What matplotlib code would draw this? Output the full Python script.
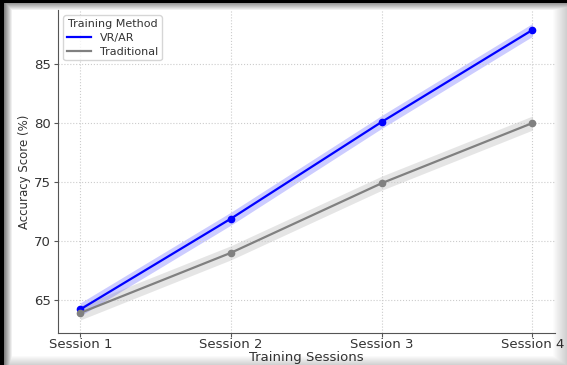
import numpy as np
import matplotlib.pyplot as plt

# accuracy per training session
sessions = ['Session 1', 'Session 2', 'Session 3', 'Session 4']
vr_ar = [64.2, 71.9, 80.1, 87.9]
traditional = [63.9, 69.0, 74.9, 80.0]
vr_ar_ci = [0.55, 0.55, 0.55, 0.55]
traditional_ci = [0.6, 0.6, 0.6, 0.6]

W, H = 567, 365
fig = plt.figure(figsize=(W / 100, H / 100), dpi=100)
ax = fig.add_axes([0.102, 0.088, 0.877, 0.885])

x = np.arange(len(sessions))

def draw(vals, ci, color, label):
    vals = np.array(vals)
    ci = np.array(ci)
    ax.fill_between(x, vals - ci, vals + ci, color=color, alpha=0.2, lw=0)
    ax.plot(x, vals, color=color, lw=1.6, label=label)
    ax.plot(x, vals, 'o', color=color, ms=4.5)

draw(vr_ar, vr_ar_ci, 'blue', 'VR/AR')
draw(traditional, traditional_ci, 'grey', 'Traditional')

ax.set_xticks(x)
ax.set_xticklabels(sessions, fontsize=9.5, color='#333333')
ax.set_yticks([65, 70, 75, 80, 85])
ax.tick_params(axis='y', labelsize=9.5, labelcolor='#333333', pad=2)
ax.tick_params(axis='x', pad=1)
ax.tick_params(length=3, color='#555555')
ax.set_xlim(-0.15, 3.15)
ax.set_ylim(62.2, 89.6)
ax.set_xlabel('Training Sessions', fontsize=9.5, color='#333333', labelpad=0)
ax.set_ylabel('Accuracy Score (%)', fontsize=8.5, color='#333333', labelpad=2)
ax.grid(True, ls=':', color='#cccccc', lw=0.8)
for s in ['top', 'right']:
    ax.spines[s].set_visible(False)
for s in ['left', 'bottom']:
    ax.spines[s].set_color('#555555')

leg = ax.legend(title='Training Method', loc='upper left', fontsize=8,
                title_fontsize=8, frameon=True, borderpad=0.3,
                labelspacing=0.35, handlelength=2.2, bbox_to_anchor=(0.0, 1.0))
leg.get_title().set_color('#333333')
for t in leg.get_texts():
    t.set_color('#333333')

# dark frame with soft shadow: black on top/left, faint shade on right/bottom
cols = np.arange(W)
rows = np.arange(H)
left = np.where(cols < 4, 1.0, np.clip(0.5 * (12 - cols) / 8, 0, None))
top = np.where(rows < 3, 1.0, np.clip(0.4 * (10 - rows) / 7, 0, None))
right = np.clip(0.2 * (cols - 552) / 15, 0, None)
bottom = np.clip(0.2 * (rows - 355) / 10, 0, None)
zero = np.zeros((H, W))
alpha = np.maximum.reduce([left[None, :] + zero, top[:, None] + zero,
                           right[None, :] + zero, bottom[:, None] + zero])
overlay = np.zeros((H, W, 4))
overlay[..., 3] = np.clip(alpha, 0, 1)
fax = fig.add_axes([0, 0, 1, 1], zorder=20)
fax.imshow(overlay, aspect='auto', interpolation='nearest')
fax.axis('off')

fig.savefig('out.png', dpi=100)
